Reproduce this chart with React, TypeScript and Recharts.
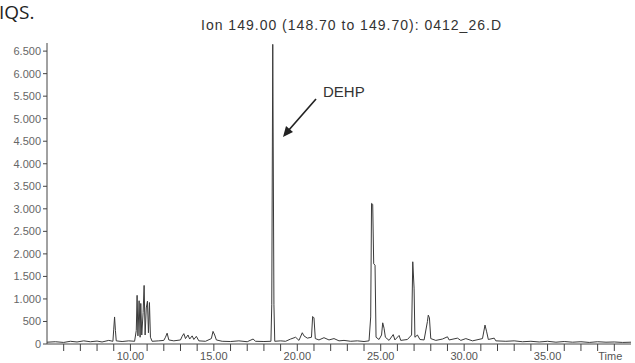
import { LineChart, Line, XAxis, YAxis } from 'recharts'

// retention time (min) and abundance
const TIMES = [
  5.0, 5.5, 6.0, 6.4, 6.8, 7.2, 7.6, 8.0, 8.3, 8.7, 8.95, 9.0, 9.05, 9.1, 9.15, 9.5, 9.9,
  10.25, 10.35, 10.4, 10.45, 10.52, 10.58, 10.62, 10.68, 10.76, 10.82, 10.88, 10.95, 11.02, 11.08, 11.14, 11.2, 11.3,
  11.7, 12.0, 12.1, 12.2, 12.3, 12.6, 13.0, 13.1, 13.2, 13.3, 13.45, 13.55, 13.7, 13.8, 13.95, 14.1, 14.5,
  14.85, 14.95, 15.05, 15.15, 15.5, 16.0, 16.5, 17.0, 17.35, 17.5, 18.0,
  18.42, 18.47, 18.53, 18.6, 18.65, 19.0, 19.3, 19.6, 19.9, 20.1, 20.3, 20.4, 20.6, 20.85, 20.92, 21.0, 21.08,
  21.3, 21.6, 21.9, 22.2, 22.5, 22.8, 23.2, 23.6, 24.0, 24.3,
  24.4, 24.45, 24.52, 24.58, 24.66, 24.72, 24.9, 25.05, 25.12, 25.2, 25.28, 25.5, 25.75, 25.85, 26.1, 26.2, 26.6,
  26.85, 26.92, 27.0, 27.05, 27.2, 27.35, 27.6, 27.8, 27.85, 27.92, 28.0, 28.3, 28.7, 29.0, 29.1, 29.6, 29.8,
  30.1, 30.5, 31.1, 31.25, 31.35, 31.45, 31.8, 31.9, 32.5, 33.0, 33.5, 34.0, 34.5, 35.0, 35.5, 36.0, 36.5,
  37.0, 37.5, 38.0, 38.5, 39.0, 39.5, 40.0,
]
const ABUNDANCE = [
  40, 50, 35, 60, 45, 70, 50, 65, 45, 80, 60, 330, 600, 300, 70, 55, 70,
  60, 300, 1080, 180, 960, 150, 900, 200, 700, 1300, 200, 800, 950, 250, 920, 150, 60,
  70, 80, 150, 240, 90, 70, 90, 170, 230, 120, 200, 110, 180, 100, 170, 70, 60,
  120, 280, 200, 90, 60, 55, 70, 50, 110, 60, 55,
  60, 870, 6650, 870, 60, 70, 60, 110, 150, 80, 250, 180, 130, 150, 610, 580, 120,
  90, 140, 90, 120, 70, 80, 60, 70, 55, 70,
  600, 3120, 3100, 1780, 1750, 150, 100, 200, 470, 350, 150, 80, 210, 90, 190, 80, 100,
  200, 1825, 1240, 150, 200, 100, 90, 500, 640, 580, 120, 80, 110, 160, 90, 130, 80,
  120, 70, 120, 420, 270, 100, 130, 70, 60, 70, 50, 60, 45, 60, 40, 55, 40,
  50, 35, 50, 40, 45, 35, 40,
]

const Y_TICKS = [0, 500, 1000, 1500, 2000, 2500, 3000, 3500, 4000, 4500, 5000, 5500, 6000, 6500]
const X_TICKS = [6, 7, 8, 9, 10, 11, 12, 13, 14, 15, 16, 17, 18, 19, 20, 21, 22, 23, 24, 25, 26, 27, 28, 29, 30, 31, 32, 33, 34, 35, 36, 37, 38, 39]
const X_LABELS = [10, 15, 20, 25, 30, 35]

const data = TIMES.map((t, i) => ({ t, v: ABUNDANCE[i] }))

const FONT = '"Liberation Sans", Arial, sans-serif'

const fmtY = (v: number) =>
  v >= 1000 ? `${Math.floor(v / 1000)}.${String(v % 1000).padStart(3, '0')}` : String(v)

const XTick = ({ x, y, payload }: any) => {
  const v = payload.value
  if (v === 39) {
    return (
      <text x={x - 4} y={y - 1} dy="0.71em" textAnchor="middle" fontSize={11} fill="#555" fontFamily={FONT}>
        Time
      </text>
    )
  }
  if (!X_LABELS.includes(v)) return null
  return (
    <text x={x} y={y - 1} dy="0.71em" textAnchor="middle" fontSize={11} fill="#555" fontFamily={FONT}>
      {v.toFixed(2)}
    </text>
  )
}

export default function App() {
  return (
    <div style={{ position: 'absolute', left: 0, top: 0, width: 635, height: 363, background: '#fff' }}>
      <LineChart width={635} height={363} data={data} margin={{ top: 43, right: 4, left: 0, bottom: 0 }}>
        <XAxis
          dataKey="t"
          type="number"
          domain={[5, 40]}
          ticks={X_TICKS}
          interval={0}
          tickSize={7}
          height={19}
          tick={<XTick />}
          stroke="#444"
          allowDataOverflow
        />
        <YAxis
          type="number"
          domain={[0, 6680]}
          ticks={Y_TICKS}
          interval={0}
          width={47}
          tickSize={4}
          tickFormatter={fmtY}
          tick={{ fontSize: 11, fill: '#666', fontFamily: FONT }}
          stroke="#444"
          allowDataOverflow
        />
        <Line
          dataKey="v"
          type="linear"
          stroke="#3a3a3a"
          strokeWidth={1}
          dot={false}
          isAnimationActive={false}
        />
      </LineChart>
      <svg width={635} height={363} style={{ position: 'absolute', left: 0, top: 0, pointerEvents: 'none' }}>
        <text x={-1} y={19} fontSize={19} fill="#222" fontFamily='"Open Sans", sans-serif'>IQS.</text>
        <text x={201} y={30} fontSize={14} textLength={300} lengthAdjust="spacing" fill="#333" fontFamily={FONT}>
          Ion 149.00 (148.70 to 149.70): 0412_26.D
        </text>
        <text x={323} y={97} fontSize={15} fill="#333" fontFamily={FONT}>DEHP</text>
        <line x1={316} y1={99} x2={288} y2={131} stroke="#222" strokeWidth={1.6} />
        <polygon points="283,137 286,126 293,132" fill="#222" />
      </svg>
    </div>
  )
}
